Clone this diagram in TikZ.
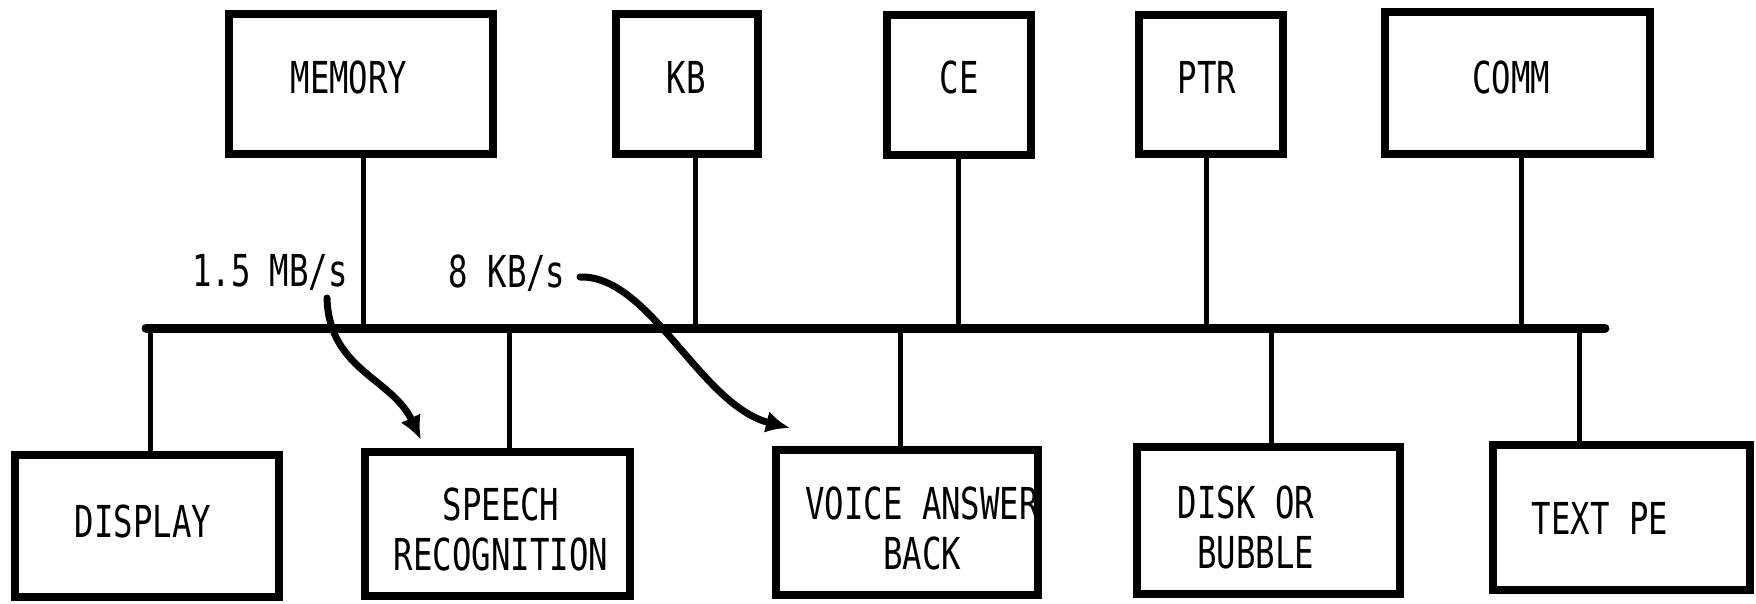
\documentclass[tikz,border=0pt]{standalone}
\usepackage{fontspec}
\newfontfamily\labfont[FakeStretch=0.735]{DejaVu Sans Mono}
\usetikzlibrary{arrows.meta}
\tikzset{
  box/.style={draw, line width=7.5pt, rectangle, inner sep=0pt},
  lbl/.style={inner sep=0pt, align=center, font=\labfont\fontsize{44}{50}\selectfont},
  conn/.style={line width=5pt},
  busline/.style={line width=9pt, line cap=round},
  flow/.style={line width=7pt, line cap=round, -{Latex[length=24pt,width=22pt]}}
}
\begin{document}
\begin{tikzpicture}[x=1pt,y=-1pt]
\useasboundingbox (0,0) rectangle (1756,603);
% top boxes
\node[box, minimum width=264pt, minimum height=140pt] (mem)  at (361,84)    {};
\node[box, minimum width=142pt, minimum height=140pt] (kb)   at (687,84)    {};
\node[box, minimum width=144pt, minimum height=140pt] (ce)   at (959,85)    {};
\node[box, minimum width=144pt, minimum height=139pt] (ptr)  at (1211,84.5) {};
\node[box, minimum width=265pt, minimum height=142pt] (comm) at (1517.5,83) {};
% bottom boxes
\node[box, minimum width=264pt, minimum height=142pt] (disp)  at (147,526)     {};
\node[box, minimum width=265pt, minimum height=144pt] (sp)    at (497.5,524)   {};
\node[box, minimum width=262pt, minimum height=145pt] (voice) at (907,522.5)   {};
\node[box, minimum width=263pt, minimum height=147pt] (disk)  at (1268.5,520.5){};
\node[box, minimum width=257pt, minimum height=145pt] (tpe)   at (1621.5,517.5){};
% labels
\node[lbl] (memT)  at (349,77)   {MEMORY};
\node[lbl] (kbT)   at (686,77)   {KB};
\node[lbl] (ceT)   at (959,77)   {CE};
\node[lbl] (ptrT)  at (1207,77)  {PTR};
\node[lbl] (commT) at (1511,77)  {COMM};
\node[lbl] (dispT) at (143,521)  {DISPLAY};
\node[lbl] (spT)   at (501,529)  {SPEECH\\RECOGNITION};
\node[lbl] (voiceT)at (922,528)  {VOICE ANSWER\\BACK};
\node[lbl, align=right] (diskT) at (1246,527) {DISK OR\\BUBBLE~};
\node[lbl] (tpeT)  at (1600,518) {TEXT PE};
\node[lbl] (r1)    at (270,272)  {1.5 MB/s};
\node[lbl] (r2)    at (507,273)  {8 KB/s};
% bus
\coordinate (busL) at (146,328);
\coordinate (busR) at (1605,328);
\draw[busline] (busL) -- (busR);
% bus taps
\coordinate (memB)  at (363,328);
\coordinate (kbB)   at (695,328);
\coordinate (ceB)   at (958,328);
\coordinate (ptrB)  at (1206,328);
\coordinate (commB) at (1521,328);
\coordinate (dispB) at (150,328);
\coordinate (spB)   at (509,328);
\coordinate (voiceB)at (900,328);
\coordinate (diskB) at (1271,328);
\coordinate (tpeB)  at (1579,328);
\draw[conn] (memB |- mem.south) -- (memB);
\draw[conn] (kbB |- kb.south) -- (kbB);
\draw[conn] (ceB |- ce.south) -- (ceB);
\draw[conn] (ptrB |- ptr.south) -- (ptrB);
\draw[conn] (commB |- comm.south) -- (commB);
\draw[conn] (dispB) -- (dispB |- disp.north);
\draw[conn] (spB) -- (spB |- sp.north);
\draw[conn] (voiceB) -- (voiceB |- voice.north);
\draw[conn] (diskB) -- (diskB |- disk.north);
\draw[conn] (tpeB) -- (tpeB |- tpe.north);
% rate arrows
\coordinate (a1s) at (327,298);
\coordinate (a1e) at (421,440);
\coordinate (a2s) at (580,277);
\coordinate (a2e) at (790,428);
\draw[flow] (a1s) .. controls (329,370) and (392,378) .. (a1e);
\draw[flow] (a2s) .. controls (650,275) and (700,405) .. (a2e);
\end{tikzpicture}
\end{document}
